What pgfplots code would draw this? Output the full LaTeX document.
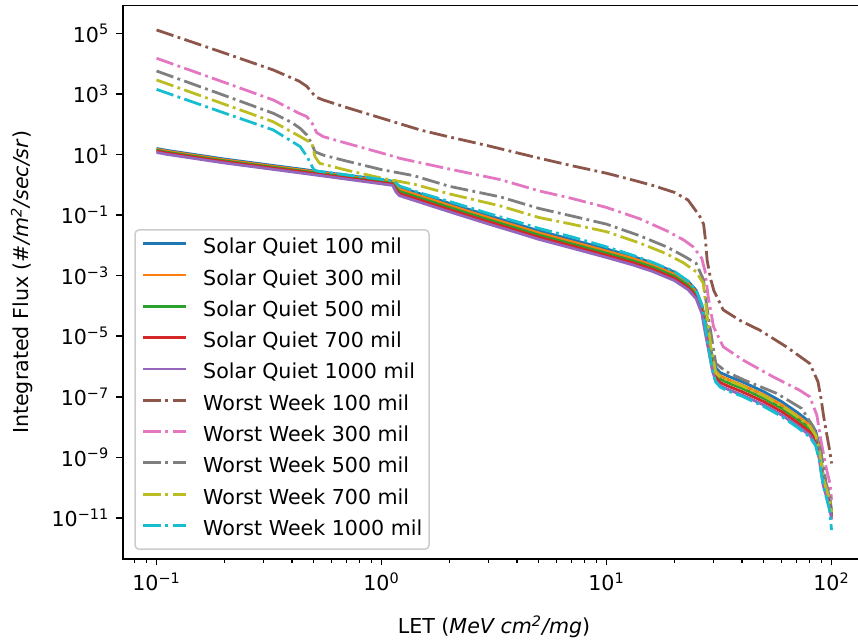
\documentclass[border=0pt]{standalone}
\usepackage{fontspec}
\setmainfont{DejaVu Sans}
\usepackage{pgfplots}
\usepackage{pgfplotstable}
\pgfplotsset{compat=1.18}
\definecolor{c0}{HTML}{1F77B4}
\definecolor{c1}{HTML}{FF7F0E}
\definecolor{c2}{HTML}{2CA02C}
\definecolor{c3}{HTML}{D62728}
\definecolor{c4}{HTML}{9467BD}
\definecolor{c5}{HTML}{8C564B}
\definecolor{c6}{HTML}{E377C2}
\definecolor{c7}{HTML}{7F7F7F}
\definecolor{c8}{HTML}{BCBD22}
\definecolor{c9}{HTML}{17BECF}

\pgfplotstableread{
x b o g r p
0.1 15.8 14.8 13.8 12.9 11.7
0.11 13.8 12.9 12.0 11.2 10.2
0.2 7.08 6.61 6.17 5.75 5.25
0.5 2.88 2.69 2.51 2.34 2.14
1.0 1.45 1.35 1.26 1.17 1.07
1.12 1.29 1.20 1.12 1.05 0.955
1.16 1.10 0.933 0.794 0.676 0.575
1.2 0.832 0.708 0.603 0.513 0.437
1.5 0.490 0.417 0.355 0.302 0.257
2 0.245 0.209 0.178 0.151 0.129
3 9.55e-2 8.13e-2 6.92e-2 5.89e-2 5.01e-2
4 5.01e-2 4.27e-2 3.63e-2 3.09e-2 2.63e-2
5 3.02e-2 2.57e-2 2.19e-2 1.86e-2 1.58e-2
7 1.55e-2 1.32e-2 1.12e-2 9.55e-3 8.13e-3
10 7.59e-3 6.46e-3 5.50e-3 4.68e-3 3.98e-3
13 4.37e-3 3.72e-3 3.16e-3 2.69e-3 2.29e-3
16 2.63e-3 2.24e-3 1.91e-3 1.62e-3 1.38e-3
20 1.32e-3 1.12e-3 9.55e-4 8.13e-4 6.92e-4
23 6.61e-4 5.62e-4 4.79e-4 4.07e-4 3.47e-4
25 3.31e-4 2.82e-4 2.40e-4 2.04e-4 1.74e-4
26.5 1.10e-4 9.33e-5 7.94e-5 6.76e-5 5.75e-5
27.5 3.31e-5 2.57e-5 2.00e-5 1.55e-5 1.20e-5
28.5 8.32e-6 6.46e-6 5.01e-6 3.89e-6 3.02e-6
29.5 2.09e-6 1.62e-6 1.26e-6 9.77e-7 7.59e-7
30.5 9.33e-7 7.24e-7 5.62e-7 4.37e-7 3.39e-7
32 6.31e-7 4.90e-7 3.80e-7 2.95e-7 2.29e-7
35 4.68e-7 3.63e-7 2.82e-7 2.19e-7 1.70e-7
40 3.16e-7 2.45e-7 1.91e-7 1.48e-7 1.15e-7
50 1.48e-7 1.15e-7 8.91e-8 6.92e-8 5.37e-8
60 6.92e-8 5.37e-8 4.17e-8 3.24e-8 2.51e-8
70 3.16e-8 2.45e-8 1.91e-8 1.48e-8 1.15e-8
80 1.48e-8 1.15e-8 8.91e-9 6.92e-9 5.37e-9
85 7.41e-9 5.75e-9 4.47e-9 3.47e-9 2.69e-9
88 2.63e-9 2.04e-9 1.58e-9 1.23e-9 9.55e-10
90 8.32e-10 6.46e-10 5.01e-10 3.89e-10 3.02e-10
92 2.24e-10 1.86e-10 1.58e-10 1.35e-10 1.12e-10
95 1.00e-10 8.32e-11 7.08e-11 6.03e-11 5.01e-11
98 5.01e-11 4.17e-11 3.55e-11 3.02e-11 2.51e-11
100 1.78e-11 1.48e-11 1.26e-11 1.07e-11 8.91e-12
}\sqdata

\pgfplotstableread{
x y
0.1 1.29e5
0.2 2.24e4
0.33 6.17e3
0.43 2.63e3
0.465 1.78e3
0.49 1.12e3
0.51 7.94e2
0.55 6.31e2
0.7 3.55e2
1.0 1.58e2
1.5 63.1
2 38.0
3 19.1
5 7.59
7 4.27
10 2.40
13 1.45
16 0.955
20 0.562
23 0.316
24.5 0.166
26 8.91e-2
27 5.01e-2
27.5 1.58e-2
28 3.16e-3
29 7.94e-4
30 3.16e-4
33 7.41e-5
39 3.39e-5
48 1.58e-5
63 4.47e-6
80 1.26e-6
87 3.16e-7
90 7.94e-8
92 2.51e-8
95 6.31e-9
98 1.78e-9
100 6.31e-10
}\wwA

\pgfplotstableread{
x y
0.1 1.50e4
0.2 2.40e3
0.33 6.31e2
0.43 2.29e2
0.465 1.78e2
0.49 1.12e2
0.515 52.5
0.55 38.9
0.7 23.4
1.0 11.2
1.21 7.41
2 3.31
3.37 1.48
5 0.631
7 0.355
10 0.178
14 7.59e-2
18.5 3.02e-2
22 1.51e-2
24.3 8.91e-3
26.5 3.72e-3
27.4 1.41e-3
28.3 2.00e-4
29.9 2.04e-5
33 4.47e-6
40.5 1.62e-6
55 4.57e-7
72 1.66e-7
80 1.00e-7
86 2.51e-8
90 3.16e-9
95 3.98e-10
98.4 1.38e-10
100 3.98e-11
}\wwB

\pgfplotstableread{
x y
0.1 5.69e3
0.2 8.91e2
0.33 2.29e2
0.40 1.12e2
0.435 72.4
0.466 43.7
0.49 22.4
0.506 12.3
0.55 9.55
0.7 6.03
1.0 3.16
1.39 2.00
2 0.891
3.37 0.398
5 0.166
7 9.33e-2
10 5.01e-2
14 2.09e-2
18.5 8.91e-3
22 4.47e-3
25 2.57e-3
27 7.24e-4
27.5 2.00e-4
28.8 2.04e-5
30.6 1.26e-6
34 6.76e-7
41 3.55e-7
57 1.30e-7
73.5 4.17e-8
83 1.02e-8
89.4 1.74e-9
94.7 1.38e-10
100 3.16e-11
}\wwC

\pgfplotstableread{
x y
0.1 2.88e3
0.2 4.57e2
0.33 1.20e2
0.435 38.9
0.49 23.4
0.506 8.51
0.53 5.13
0.7 3.02
1.0 1.66
1.39 1.05
2 0.501
3.37 0.200
5 8.32e-2
7 5.01e-2
10 2.82e-2
14 1.20e-2
18.5 5.25e-3
22 2.63e-3
25 1.35e-3
26.9 5.62e-4
27.8 7.41e-5
29.2 3.47e-6
30.6 6.03e-7
32 4.57e-7
35 3.39e-7
40 2.29e-7
50 1.07e-7
60 5.01e-8
70 2.29e-8
80 1.07e-8
85 5.37e-9
88 1.91e-9
90 6.03e-10
92 1.91e-10
95 8.51e-11
98 3.98e-11
100 1.58e-11
}\wwD

\pgfplotstableread{
x y
0.1 1.41e3
0.2 2.34e2
0.33 64.6
0.435 18.2
0.466 8.51
0.50 3.16
0.52 2.82
1.0 1.51
1.12 1.35
1.16 1.15
1.2 0.912
1.5 0.525
2 0.282
3 0.112
4 6.03e-2
5 3.63e-2
7 1.91e-2
10 8.91e-3
13 4.79e-3
16 2.75e-3
20 1.38e-3
23 6.61e-4
25 3.31e-4
26.5 1.10e-4
27.5 2.00e-5
28.5 3.55e-6
29.5 7.94e-7
30.5 3.16e-7
32 2.09e-7
35 1.51e-7
40 1.05e-7
50 4.79e-8
60 2.24e-8
70 1.02e-8
80 4.79e-9
85 2.40e-9
88 8.91e-10
90 3.16e-10
92 1.12e-10
95 4.47e-11
98 1.78e-11
100 3.98e-12
}\wwE

\begin{document}
\begin{tikzpicture}[font=\fontsize{10.3}{12.4}\selectfont]
\useasboundingbox (-61.4pt,-40.5pt) rectangle (367.6pt,279.5pt);
\begin{axis}[
  at={(0pt,0pt)}, anchor=south west,
  scale only axis, width=371.25pt, height=276.65pt,
  xmode=log, ymode=log,
  xmin=0.0708, xmax=141.25, ymin=4.43e-13, ymax=8.15e5,
  xtick={0.1,1,10,100},
  xticklabels={10\textsuperscript{−1},10\textsuperscript{0},10\textsuperscript{1},10\textsuperscript{2}},
  minor xtick={0.08,0.09,0.2,0.3,0.4,0.5,0.6,0.7,0.8,0.9,2,3,4,5,6,7,8,9,20,30,40,50,60,70,80,90},
  ytick={1e-11,1e-9,1e-7,1e-5,1e-3,1e-1,1e1,1e3,1e5},
  yticklabels={10\textsuperscript{−11},10\textsuperscript{−9},10\textsuperscript{−7},10\textsuperscript{−5},10\textsuperscript{−3},10\textsuperscript{−1},10\textsuperscript{1},10\textsuperscript{3},10\textsuperscript{5}},
  yminorticks=false,
  tick align=outside, tick pos=left,
  major tick length=3.25pt, minor tick length=1.85pt,
  every tick/.style={black, line width=0.75pt},
  every minor tick/.append style={line width=0.56pt},
  axis line style={line width=0.75pt},
  tick label style={font=\fontsize{10.3}{12.4}\selectfont},
  xlabel={LET (\textit{MeV cm\textsuperscript{2}/mg})},
  ylabel={Integrated Flux (\textit{\#/m\textsuperscript{2}/sec/sr})},
  every axis x label/.style={at={(axis description cs:0.5,0)}, anchor=base, yshift=-37.5pt, font=\fontsize{10.3}{12.4}\selectfont},
  every axis y label/.style={at={(axis description cs:-0.1266,0.5)}, rotate=90, anchor=base, font=\fontsize{10.3}{12.4}\selectfont},
  legend style={at={(rel axis cs:0,0)}, anchor=south west, xshift=5.75pt, yshift=4.5pt,
    draw=black!20, line width=0.75pt, rounded corners=2pt, fill=white, fill opacity=0.8, text opacity=1,
    inner xsep=3.35pt, inner ysep=4.4pt, row sep=5.65pt, column sep=7.85pt,
    nodes={inner sep=0pt, text height=7.5pt, text depth=2.5pt},
    font=\fontsize{10.3}{12.4}\selectfont},
  legend cell align=left,
  legend image code/.code={\draw[#1, line width=1.4pt] (0pt,2.5pt) -- (21.5pt,2.5pt);},
  sq/.style={line width=1.4pt, line join=round},
  ww/.style={line width=1.4pt, line join=round, dash pattern=on 8.9pt off 2.2pt on 1.4pt off 2.2pt},
]
\addplot[sq, c0] table[x=x, y=b] {\sqdata};
\addlegendentry{Solar Quiet 100 mil}
\addplot[sq, c1] table[x=x, y=o] {\sqdata};
\addlegendentry{Solar Quiet 300 mil}
\addplot[sq, c2] table[x=x, y=g] {\sqdata};
\addlegendentry{Solar Quiet 500 mil}
\addplot[sq, c3] table[x=x, y=r] {\sqdata};
\addlegendentry{Solar Quiet 700 mil}
\addplot[sq, c4] table[x=x, y=p] {\sqdata};
\addlegendentry{Solar Quiet 1000 mil}
\addplot[ww, c5] table[x=x, y=y] {\wwA};
\addlegendentry{Worst Week 100 mil}
\addplot[ww, c6] table[x=x, y=y] {\wwB};
\addlegendentry{Worst Week 300 mil}
\addplot[ww, c7] table[x=x, y=y] {\wwC};
\addlegendentry{Worst Week 500 mil}
\addplot[ww, c8] table[x=x, y=y] {\wwD};
\addlegendentry{Worst Week 700 mil}
\addplot[ww, c9] table[x=x, y=y] {\wwE};
\addlegendentry{Worst Week 1000 mil}
\end{axis}
\end{tikzpicture}
\end{document}
